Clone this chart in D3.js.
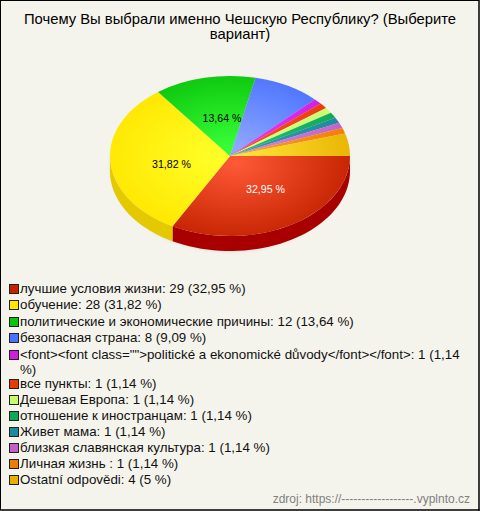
<!DOCTYPE html>
<html><head><meta charset="utf-8">
<script src="https://cdn.jsdelivr.net/npm/d3@7/dist/d3.min.js"></script>
<style>html,body{margin:0;padding:0;background:#f5f4ec}svg{display:block}text{font-family:"Liberation Sans",Arial,sans-serif}</style>
</head><body><div id="c"></div>
<script>
const titleLines=["Почему Вы выбрали именно Чешскую Республику? (Выберите","вариант)"];
const categories=["лучшие условия жизни","обучение","политические и экономические причины","безопасная страна","<font><font class=\"\">politické a ekonomické důvody</font></font>","все пункты","Дешевая Европа","отношение к иностранцам","Живет мама","близкая славянская культура","Личная жизнь ","Ostatní odpovědi"];
const values=[29,28,12,8,1,1,1,1,1,1,1,4];
const shares=["32,95","31,82","13,64","9,09","1,14","1,14","1,14","1,14","1,14","1,14","1,14","5"];
const baseColors=["#c42200","#ffe600","#0bc40b","#4a72ff","#d01ee0","#e83c08","#c8fa70","#0ea858","#1f8a9c","#c060c8","#ee7c08","#e8b000"];
const lightColors=["#ff5a38","#ffff28","#38ff38","#90a8ff","#e838f8","#ff5020","#d8ff88","#20c070","#3098b0","#d880d8","#ffa020","#ffe438"];
const sideColors=["#a80000","#e4c800"];
const pieLabels=[{i:0,fill:"#fff"},{i:1,fill:"#000"},{i:2,fill:"#000"}];
const W=480,H=511,cx=230,cy=156,rx=120,ry=80,depth=15;
const svg=d3.select("#c").append("svg").attr("width",W).attr("height",H);
const defs=svg.append("defs");
svg.append("rect").attr("x",.5).attr("y",.5).attr("width",W-1.5).attr("height",H-1.5).attr("fill","#f5f4ec").attr("stroke","#000").attr("stroke-width",1);
svg.append("line").attr("x1",W-1).attr("x2",W-1).attr("y1",0).attr("y2",H).attr("stroke","#000");
svg.append("line").attr("x1",0).attr("x2",W).attr("y1",H-1).attr("y2",H-1).attr("stroke","#000");
svg.append("text").attr("text-anchor","middle").attr("font-size",14.8).selectAll("tspan").data(titleLines).join("tspan")
  .attr("x",240).attr("y",(d,i)=>24+i*15).attr("fill","#000").text(d=>d);
const blur=defs.append("filter").attr("id","glow").attr("x","-10%").attr("y","-10%").attr("width","120%").attr("height","125%");
blur.append("feGaussianBlur").attr("stdDeviation",1.2);
const pie=d3.pie().sort(null).startAngle(Math.PI/2).endAngle(Math.PI*2.5)(values);
const arc=d3.arc().innerRadius(0).outerRadius(rx);
const kY=ry/rx;
const pt=(a,dy)=>[cx+rx*Math.sin(a),cy-ry*Math.cos(a)+dy];
const g=svg.append("g");
g.append("ellipse").attr("cx",cx).attr("cy",cy+depth/2+1).attr("rx",rx+.5).attr("ry",ry+depth/2+.5).attr("fill","#c8c8c0").attr("filter","url(#glow)").attr("opacity",.4);
pie.forEach((p,i)=>{
  const a0=Math.max(p.startAngle,Math.PI/2),a1=Math.min(p.endAngle,Math.PI*1.5);
  if(a1<=a0)return;
  const as=d3.range(0,41).map(k=>a0+(a1-a0)*k/40);
  const pts=as.map(a=>pt(a,0)).concat(as.slice().reverse().map(a=>pt(a,depth)));
  g.append("path").attr("d",d3.line()(pts)+"Z").attr("fill",sideColors[i]||baseColors[i]);
});
const face=g.append("g").attr("transform",`translate(${cx},${cy}) scale(1,${kY})`);
pie.forEach((p,i)=>{
  const id="g"+i;
  const c=arc.centroid(p);
  const gr=defs.append("radialGradient").attr("id",id).attr("gradientUnits","userSpaceOnUse")
    .attr("cx",c[0]*.2).attr("cy",c[1]*.2).attr("r",rx*1.0);
  gr.append("stop").attr("offset",0).attr("stop-color",lightColors[i]);
  gr.append("stop").attr("offset",1).attr("stop-color",baseColors[i]);
  face.append("path").attr("d",arc(p)).attr("fill",`url(#${id})`);
});
const lx=d3.scaleOrdinal().domain([0,1,2]).range([265.5,171.5,222]);
const ly=d3.scaleOrdinal().domain([0,1,2]).range([193,168,122]);
svg.append("g").selectAll("text").data(pieLabels).join("text").attr("font-size",10.6).attr("text-anchor","middle")
  .attr("x",d=>lx(d.i)).attr("y",d=>ly(d.i)).attr("fill",d=>d.fill).text(d=>shares[d.i]+" %");
const rowY=[293,309,326,342,359,388,404,420,436,452,468,484];
const legend=svg.append("g");
categories.forEach((c,i)=>{
  const y=rowY[i];
  legend.append("rect").attr("x",9.5).attr("y",y-8.5).attr("width",9).attr("height",9).attr("fill",baseColors[i]).attr("stroke","#222");
  const t=legend.append("text").attr("x",20).attr("y",y).attr("font-size",13.33).attr("fill","#111");
  const s=`${c}: ${values[i]} (${shares[i]} %)`;
  if(i===4){
    t.text(s.slice(0,-2));
    legend.append("text").attr("x",20).attr("y",y+15).attr("font-size",13.33).attr("fill","#111").text("%)");
  } else t.text(s);
});
svg.append("text").attr("x",470).attr("y",503).attr("text-anchor","end").attr("font-size",12).attr("fill","#808080").text("zdroj: https://------------------.vyplnto.cz");
</script></body></html>
